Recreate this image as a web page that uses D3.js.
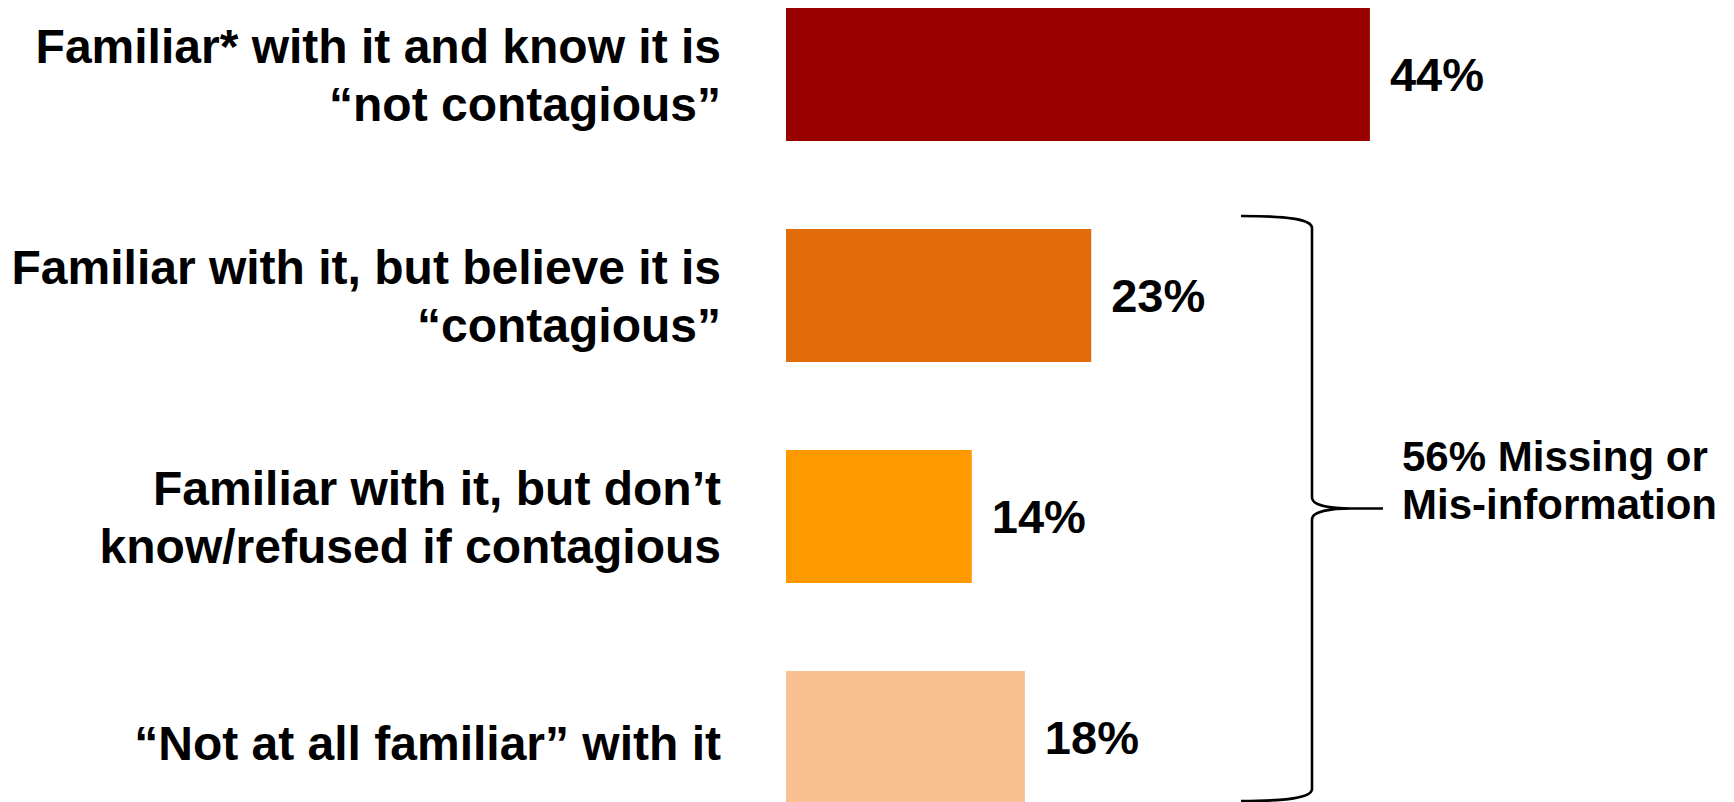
<!DOCTYPE html>
<html>
<head>
<meta charset="utf-8">
<script src="https://cdn.jsdelivr.net/npm/d3@7"></script>
<style>
  html, body { margin: 0; padding: 0; background: #ffffff; }
  svg { display: block; }
  text { font-family: "Liberation Sans", Arial, Helvetica, sans-serif; font-weight: bold; fill: #000; }
</style>
</head>
<body>
<svg id="chart" width="1734" height="802"></svg>
<script>
// ---- data ----
const categories = [
  "Familiar* with it and know it is \u201cnot contagious\u201d",
  "Familiar with it, but believe it is \u201ccontagious\u201d",
  "Familiar with it, but don\u2019t know/refused if contagious",
  "\u201cNot at all familiar\u201d with it"
];
const categoryLines = [
  ["Familiar* with it and know it is", "\u201cnot contagious\u201d"],
  ["Familiar with it, but believe it is", "\u201ccontagious\u201d"],
  ["Familiar with it, but don\u2019t", "know/refused if contagious"],
  ["\u201cNot at all familiar\u201d with it"]
];
const values = [44, 23, 14, 18];
const valueLabels = ["44%", "23%", "14%", "18%"];
const barColors = ["#990000", "#E36C0A", "#FF9900", "#F9C091"];
const bracketLines = ["56% Missing or", "Mis-information"];
const bracketGroup = [1, 3]; // first and last category index covered by the brace

// ---- layout ----
const svg = d3.select("#chart");
const x = d3.scaleLinear().domain([0, 100]).range([786, 786 + 1327]);
const y = d3.scaleBand().domain(categories).range([8, 804]).paddingInner(88 / 221).paddingOuter(0);

const labelFont = 48, valueFont = 47, noteFont = 42;
const labelLH = 58;

// bars
svg.append("g").selectAll("rect")
  .data(categories)
  .join("rect")
  .attr("x", x(0))
  .attr("y", d => y(d))
  .attr("width", (d, i) => x(values[i]) - x(0))
  .attr("height", y.bandwidth())
  .attr("fill", (d, i) => barColors[i]);

// value labels
svg.append("g").selectAll("text")
  .data(categories)
  .join("text")
  .attr("x", (d, i) => x(values[i]) + 20)
  .attr("y", d => y(d) + y.bandwidth() / 2 + valueFont * 0.36)
  .attr("font-size", valueFont)
  .text((d, i) => valueLabels[i]);

// category labels (right aligned, multi-line)
const lab = svg.append("g").selectAll("text")
  .data(categories)
  .join("text")
  .attr("text-anchor", "end")
  .attr("font-size", labelFont);
lab.each(function(d, i) {
  const lines = categoryLines[i];
  const cy = y(d) + y.bandwidth() / 2;
  const first = cy - (lines.length - 1) * labelLH / 2 + labelFont * 0.36 + (lines.length === 1 ? 5 : 0);
  d3.select(this).selectAll("tspan")
    .data(lines)
    .join("tspan")
    .attr("x", 721)
    .attr("y", (l, k) => first + k * labelLH)
    .text(l => l);
});

// brace
const topY = y(categories[bracketGroup[0]]) - 13;
const botY = y(categories[bracketGroup[1]]) + y.bandwidth() - 3;
const midY = (topY + botY) / 2 - 0;
const bx0 = 1241, bx1 = 1312, tip = 1383;
const p = d3.path();
p.moveTo(bx0, topY);
p.bezierCurveTo(bx0 + 45, topY, bx1, topY + 3, bx1, topY + 12);
p.lineTo(bx1, midY - 11);
p.bezierCurveTo(bx1, midY - 3, bx1 + 18, midY, bx1 + 40, midY);
p.lineTo(tip, midY);
p.moveTo(bx1 + 40, midY);
p.bezierCurveTo(bx1 + 18, midY, bx1, midY + 3, bx1, midY + 11);
p.lineTo(bx1, botY - 12);
p.bezierCurveTo(bx1, botY - 3, bx0 + 45, botY, bx0, botY);
svg.append("path")
  .attr("d", p.toString())
  .attr("fill", "none")
  .attr("stroke", "#000")
  .attr("stroke-width", 2.6);

// brace annotation
svg.append("text")
  .attr("font-size", noteFont)
  .selectAll("tspan")
  .data(bracketLines)
  .join("tspan")
  .attr("x", 1402)
  .attr("y", (d, i) => 471 + i * 48)
  .text(d => d);
</script>
</body>
</html>
